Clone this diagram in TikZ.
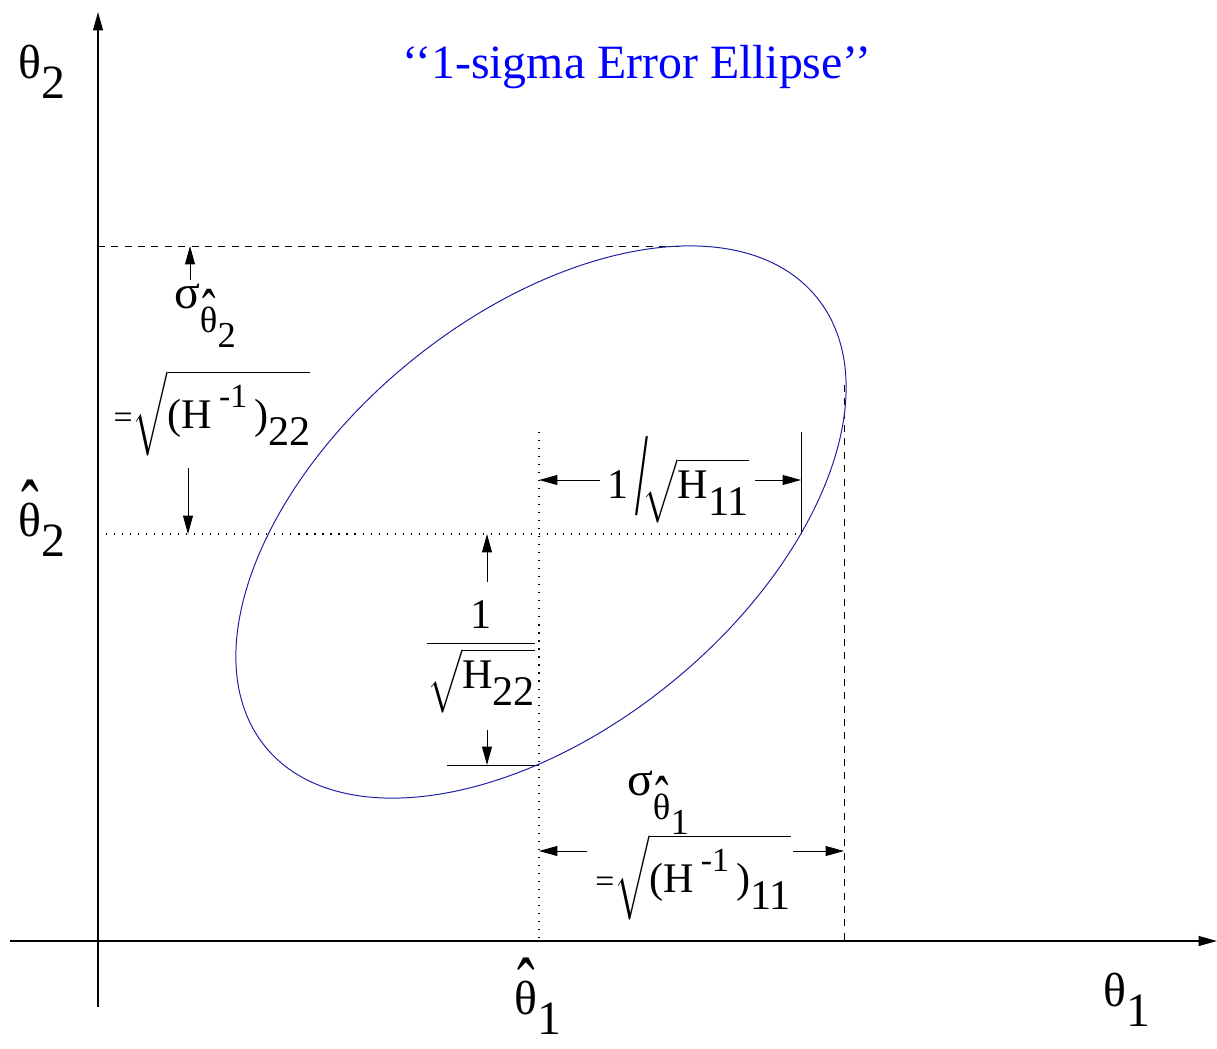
\documentclass[tikz,border=0pt]{standalone}
\usepackage{amsmath}
\usepackage{fontspec}
\setmainfont{Liberation Serif}
\usetikzlibrary{arrows.meta}
\definecolor{ellblue}{HTML}{1E1EA0}
\definecolor{titleblue}{HTML}{0000FF}
\newcommand{\lo}[1]{\raisebox{-0.42em}{#1}}
\newcommand{\hi}[1]{\raisebox{0.5em}{\fontsize{24}{24}\selectfont #1}}
\newcommand{\thhat}{\ooalign{θ\cr\hidewidth\raisebox{0em}{\scalebox{1.1}[1.7]{ˆ}}\hidewidth\cr}}
\newcommand{\sigof}[1]{σ\raisebox{-0.5em}{\fontsize{26}{26}\selectfont\thhat\lo{#1}}}

\begin{document}
\begin{tikzpicture}[x=0.025cm, y=-0.025cm,
  every node/.style={font=\fontsize{34}{40}\selectfont, inner sep=0pt},
  formula/.style={font=\fontsize{30}{36}\selectfont},
  axis/.style={line width=0.9pt, -{Triangle[length=13pt,width=7pt]}},
  dim/.style={line width=0.7pt, -{Triangle[length=13pt,width=7pt]}},
  tickline/.style={line width=0.7pt},
  dotline/.style={line width=0.8pt, dash pattern=on 0.8pt off 4.9pt},
  dashline/.style={line width=0.7pt, dash pattern=on 5pt off 4.5pt}]
\useasboundingbox (0,0) rectangle (1217,1048);
\coordinate (xs) at (10,941);
\coordinate (xe) at (1217,941);
\coordinate (ys) at (98,1007);
\coordinate (ye) at (98,12);
\coordinate (yt) at (98,246);
\coordinate (ym) at (98,534);
\coordinate (etop) at (680,246);
\coordinate (eright) at (844,385);
\coordinate (ecut) at (800,534);
\coordinate (rbase) at (844,941);
\coordinate (mtop) at (539,432);
\coordinate (mbase) at (539,941);
\coordinate (vtop) at (801,432);
\coordinate (vbot) at (801,534);
\coordinate (hleft) at (447,765);
\coordinate (hright) at (539,765);
\draw[axis] (xs) -- (xe);
\draw[axis] (ys) -- (ye);
\draw[dashline] (yt) -- (etop);
\draw[dashline] (eright) -- (rbase);
\draw[dotline] (ym) -- (ecut);
\draw[dotline] (mtop) -- (mbase);
\draw[tickline] (vtop) -- (vbot);
\draw[tickline] (hleft) -- (hright);
\draw[ellblue, line width=0.7pt] (541,522) ellipse [x radius=8.89cm, y radius=5.17cm, rotate=39.2];

\node (title) at (637,67) {\color{titleblue}‘‘1-sigma Error Ellipse’’};
\node (thtwo) at (42,72) {θ\lo{2}};
\node (thone) at (1127,1000) {θ\lo{1}};
\node (esttwo) at (42,530) {\thhat\lo{2}};
\node (estone) at (538,1008) {\thhat\lo{1}};

\node (sigtwo) at (205,316) {\sigof{2}};
\node[formula] (sqtwo) at (212,413) {{\fontsize{24}{24}\selectfont=}$\sqrt{\hbox{(H\,\hi{-1}\,)\lo{22}}}$};
\node (sigone) at (658,803) {\sigof{1}};
\node[formula] (sqone) at (693,877) {{\fontsize{24}{24}\selectfont=}$\sqrt{\hbox{(H\,\hi{-1}\,)\lo{11}}}$};
\node[formula] (hone) at (678,480) {1\,\raisebox{-0.4em}{\scalebox{1.1}[2.8]{/}}$\!\sqrt{\hbox{H\lo{11}}}$};
\node[formula] (htwo) at (481,657) {$\displaystyle\frac{\hbox{1}}{\sqrt{\hbox{H\lo{22}}}}$};

\coordinate (a1) at (190,280);
\coordinate (a2) at (188,468);
\coordinate (a3) at (188,534);
\coordinate (a4) at (600,480);
\coordinate (a5) at (539,480);
\coordinate (a6) at (755,480);
\coordinate (a7) at (801,480);
\coordinate (a8) at (487,582);
\coordinate (a9) at (487,534);
\coordinate (a10) at (487,730);
\coordinate (a11) at (487,765);
\coordinate (a12) at (587,851);
\coordinate (a13) at (539,851);
\coordinate (a14) at (793,851);
\coordinate (a15) at (844,851);
\coordinate (a16) at (190,246);
\draw[dim] (a1) -- (a16);
\draw[dim] (a2) -- (a3);
\draw[dim] (a4) -- (a5);
\draw[dim] (a6) -- (a7);
\draw[dim] (a8) -- (a9);
\draw[dim] (a10) -- (a11);
\draw[dim] (a12) -- (a13);
\draw[dim] (a14) -- (a15);
\end{tikzpicture}
\end{document}
